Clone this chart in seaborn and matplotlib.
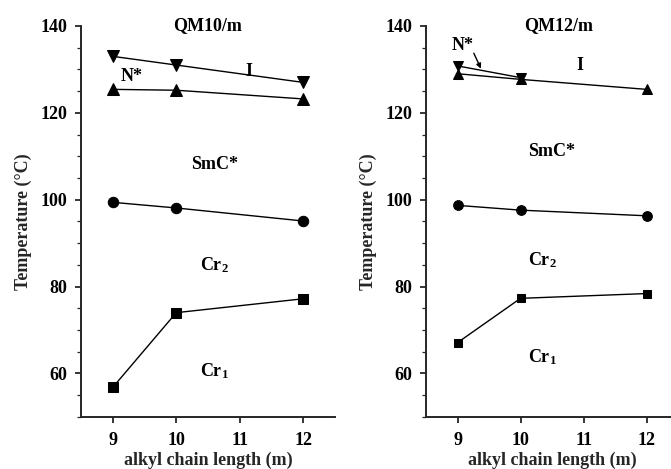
import matplotlib
matplotlib.use("Agg")
import matplotlib.pyplot as plt
import pandas as pd
import seaborn as sns
from matplotlib.ticker import MultipleLocator

# chain length m
m_vals = [9, 10, 12]

# QM10/m transition temperatures
qm10_iso = [133.0, 131.0, 127.0]     # I <- N*
qm10_nstar = [125.4, 125.2, 123.2]   # N* <- SmC*
qm10_smc = [99.4, 98.1, 95.1]        # SmC* <- Cr2
qm10_cr = [56.8, 74.0, 77.2]         # Cr2 <- Cr1

# QM12/m transition temperatures
qm12_m_iso = [9, 10]
qm12_iso = [130.8, 128.1]
qm12_nstar = [129.0, 127.7, 125.4]
qm12_smc = [98.7, 97.6, 96.3]
qm12_cr = [67.1, 77.3, 78.4]

sns.set_style("ticks")
plt.rcParams["font.family"] = ["Liberation Serif", "DejaVu Serif"]
plt.rcParams["font.weight"] = "bold"
plt.rcParams["axes.labelweight"] = "bold"
plt.rcParams["mathtext.fontset"] = "custom"
plt.rcParams["mathtext.rm"] = "Liberation Serif:bold"
plt.rcParams["mathtext.bf"] = "Liberation Serif:bold"

fig = plt.figure(figsize=(6.71, 4.69), dpi=100)
ax1 = fig.add_axes([0.1207, 0.111, 0.3785, 0.8337])
ax2 = fig.add_axes([0.6349, 0.111, 0.3756, 0.8337])


def draw_series(ax, xs, ys, marker, ms=8):
    df = pd.DataFrame({"m": xs, "T": ys})
    sns.lineplot(data=df, x="m", y="T", marker=marker, color="black",
                 markeredgecolor="black", markersize=ms, linewidth=1.0, ax=ax)


draw_series(ax1, m_vals, qm10_iso, "v")
draw_series(ax1, m_vals, qm10_nstar, "^")
draw_series(ax1, m_vals, qm10_smc, "o", ms=7.5)
draw_series(ax1, m_vals, qm10_cr, "s", ms=7)

draw_series(ax2, qm12_m_iso, qm12_iso, "v", ms=7.5)
draw_series(ax2, m_vals, qm12_nstar, "^", ms=7.5)
draw_series(ax2, m_vals, qm12_smc, "o", ms=7)
draw_series(ax2, m_vals, qm12_cr, "s", ms=6)

for ax in (ax1, ax2):
    ax.set_xlim(8.5, 12.5)
    ax.set_ylim(50, 140)
    ax.set_xticks([9, 10, 11, 12])
    ax.yaxis.set_major_locator(MultipleLocator(20))
    ax.yaxis.set_minor_locator(MultipleLocator(5))
    ax.set_yticks([60, 80, 100, 120, 140])
    ax.spines["top"].set_visible(False)
    ax.spines["right"].set_visible(False)
    ax.spines["left"].set_bounds(50, 140)
    ax.spines["left"].set_linewidth(1.4)
    ax.spines["bottom"].set_linewidth(1.4)
    ax.tick_params(axis="both", which="major", length=4, width=1.1,
                   labelsize=13, colors="black")
    ax.tick_params(axis="y", which="major", pad=6)
    ax.tick_params(axis="x", which="major", pad=7)
    ax.tick_params(axis="y", which="minor", length=3, width=0.9)
    ax.set_xlabel("alkyl chain length (m)", fontsize=13, fontweight="bold", labelpad=2)
    ax.set_ylabel("Temperature (°C)", fontsize=13, fontweight="bold", labelpad=6)
    for lbl in ax.get_xticklabels() + ax.get_yticklabels():
        lbl.set_fontweight("bold")

txt = dict(fontsize=13, fontweight="bold", ha="center", va="center", color="black")
ax1.text(10.5, 140, "QM10/m", **txt)
ax1.text(9.3, 128.4, "N*", **txt)
ax1.text(11.15, 129.6, "I", **txt)
ax1.text(10.6, 108, "SmC*", **txt)
ax1.text(10.6, 85, r"$\mathbf{Cr_2}$", **txt)
ax1.text(10.6, 60.6, r"$\mathbf{Cr_1}$", **txt)

ax2.text(10.6, 140, "QM12/m", **txt)
ax2.text(9.08, 135.6, "N*", **txt)
ax2.annotate("", xy=(9.39, 129.6), xytext=(9.24, 134.3),
             arrowprops=dict(arrowstyle="-|>", color="black", lw=1.0,
                             mutation_scale=7))
ax2.text(10.95, 130.8, "I", **txt)
ax2.text(10.5, 111, "SmC*", **txt)
ax2.text(10.35, 86.2, r"$\mathbf{Cr_2}$", **txt)
ax2.text(10.35, 63.8, r"$\mathbf{Cr_1}$", **txt)

fig.savefig("out.png", dpi=100)
plt.close(fig)
